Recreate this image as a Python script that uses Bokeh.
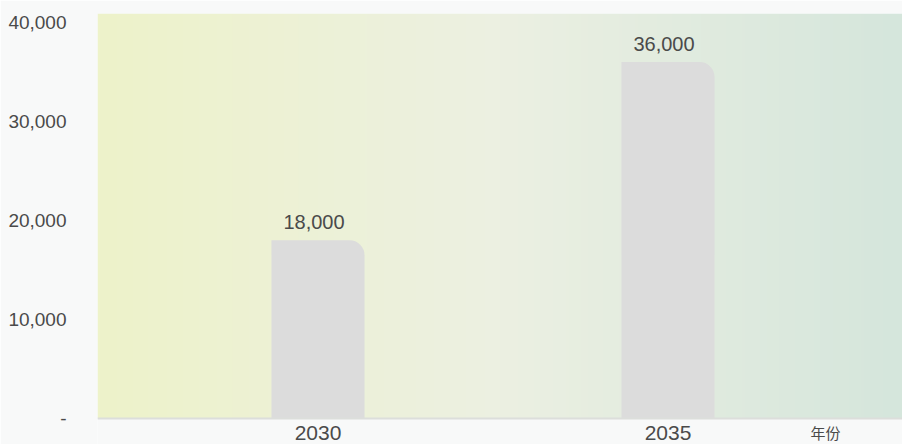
import numpy as np
from bokeh.plotting import figure
from bokeh.models import (Range1d, FixedTicker, NumeralTickFormatter, ColumnDataSource,
                          LinearAxis)
from bokeh.core.properties import value
from bokeh.embed import file_html
from bokeh.resources import INLINE

# ---- data ----
years = [2030, 2035]
values = [18000, 36000]
y_ticks = [0, 10000, 20000, 30000, 40000]
x_title = "年份"
x_title_pos = 2037.25

labels = [f"{v:,}" for v in values]
src = ColumnDataSource(dict(x=years, top=values, label=labels))

FONT = "Liberation Sans"
TXT = "#4a4a4a"
BG = "#f8f9f9"

x0, x1 = 2026.85, 2038.35
y0, y1 = -2626, 40909

p = figure(width=902, height=444, output_backend="svg", toolbar_location=None,
           x_range=Range1d(x0, x1), y_range=Range1d(y0, y1),
           x_axis_location=None,
           min_border_left=97, min_border_right=0, min_border_top=13,
           min_border_bottom=0)
p.background_fill_color = BG
p.border_fill_color = BG
p.outline_line_color = None
p.xgrid.visible = False
p.ygrid.visible = False

# gradient background of the plot area (above the zero line)
stops = np.array([[238, 243, 202], [236, 240, 226], [213, 230, 220]], float)
n = 256
t = np.linspace(0, 1, n)
img = np.empty((1, n), dtype=np.uint32)
view = img.view(dtype=np.uint8).reshape((1, n, 4))
for k in range(3):
    view[0, :, k] = np.interp(t, [0, 0.5, 1], stops[:, k]).astype(np.uint8)
view[0, :, 3] = 255
p.image_rgba(image=[img], x=x0, y=0, dw=x1 - x0, dh=y1)

p.vbar(x="x", top="top", width=1.33, source=src, fill_color="#dcdcdc",
       line_color=None, border_radius=(0, 15, 0, 0))

p.text(x="x", y="top", text="label", source=src, text_align="center",
       text_baseline="bottom", x_offset=-4, y_offset=-11,
       text_font=value(FONT), text_font_size="20px", text_color=TXT)

# y axis
p.yaxis.ticker = FixedTicker(ticks=y_ticks)
p.yaxis.formatter = NumeralTickFormatter(format="0,0")
p.yaxis.major_label_overrides = {0: "-"}
p.yaxis.axis_line_color = None
p.yaxis.major_tick_line_color = None
p.yaxis.minor_tick_line_color = None
p.yaxis.major_label_standoff = 25
p.yaxis.major_label_text_font = FONT
p.yaxis.major_label_text_font_size = "19px"
p.yaxis.major_label_text_color = TXT

# x axis, drawn on the zero line
xa = LinearAxis(ticker=FixedTicker(ticks=years), fixed_location=0,
                axis_line_color="#dcdedb", axis_line_width=2,
                major_tick_line_color=None, minor_tick_line_color=None,
                major_label_standoff=1, major_label_text_font=FONT,
                major_label_text_font_size="21px", major_label_text_color=TXT)
p.add_layout(xa, "below")

# axis title on the tick-label row, at the right
xt = LinearAxis(ticker=FixedTicker(ticks=[x_title_pos]), fixed_location=0,
                major_label_overrides={x_title_pos: x_title},
                axis_line_color=None,
                major_tick_line_color=None, minor_tick_line_color=None,
                major_label_standoff=-3, major_label_text_font="Noto Sans CJK SC",
                major_label_text_font_size="15px", major_label_text_color=TXT)
p.add_layout(xt, "below")

open("out.html", "w").write(file_html(p, INLINE))
